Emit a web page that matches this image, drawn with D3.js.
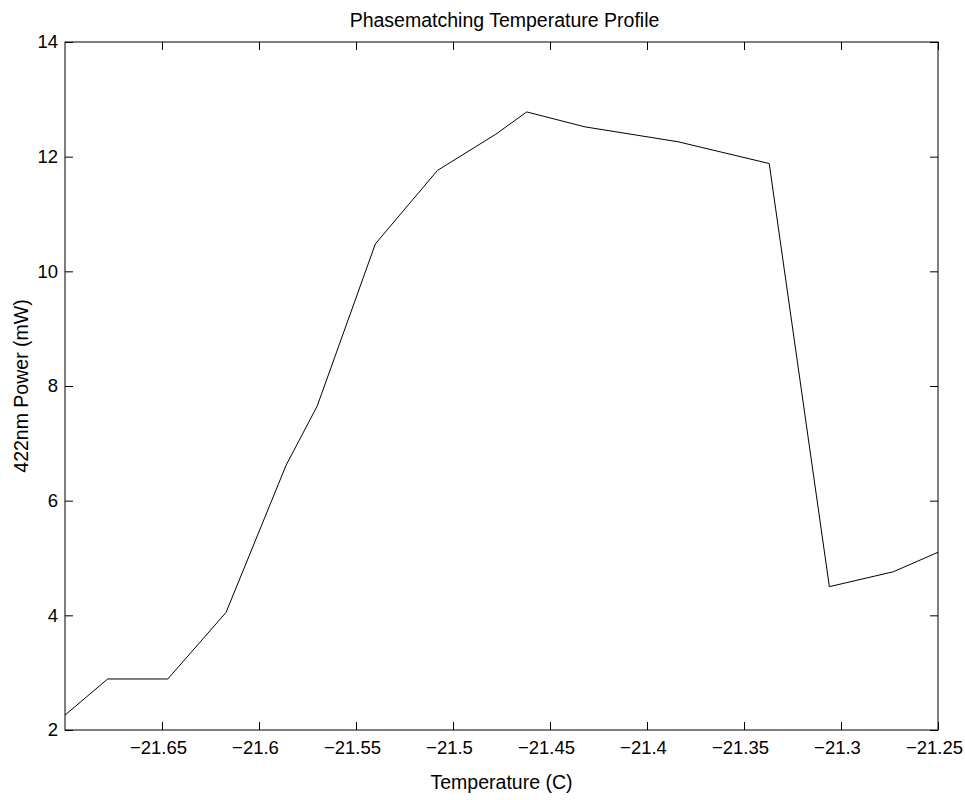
<!DOCTYPE html>
<html>
<head>
<meta charset="utf-8">
<script src="https://cdn.jsdelivr.net/npm/d3@7"></script>
<style>
  body { margin: 0; background: #fff; }
  svg text { font-family: "Liberation Sans", Arial, sans-serif; fill: #000; }
</style>
</head>
<body>
<div id="chart"></div>
<script>
// data
var temperature = [-21.700, -21.678, -21.647, -21.617, -21.586, -21.570, -21.540, -21.508,
                   -21.478, -21.462, -21.432, -21.384, -21.337, -21.306, -21.273, -21.250];
var power = [2.26, 2.89, 2.89, 4.05, 6.62, 7.65, 10.48, 11.76,
             12.39, 12.78, 12.52, 12.26, 11.88, 4.50, 4.76, 5.10];
var xTicks = [-21.65, -21.6, -21.55, -21.5, -21.45, -21.4, -21.35, -21.3, -21.25];
var yTicks = [2, 4, 6, 8, 10, 12, 14];

var svgWidth = 965, svgHeight = 800;
var margin = { top: 42, right: 27, bottom: 70, left: 65 };
var chartWidth = svgWidth - margin.left - margin.right;
var chartHeight = svgHeight - margin.top - margin.bottom;
var tickFont = 18.5, labelFont = 19.5;

var svg = d3.select("#chart").append("svg")
  .attr("width", svgWidth)
  .attr("height", svgHeight);

var chartGroup = svg.append("g")
  .attr("transform", `translate(${margin.left}, ${margin.top})`);

var xScale = d3.scaleLinear().domain([-21.7, -21.25]).range([0, chartWidth]);
var yScale = d3.scaleLinear().domain([2, 14]).range([chartHeight, 0]);

var fmtX = d => d3.format("")(d).replace("-", "\u2212");

// axes with inward ticks on all four sides
function styleAxis(g) {
  g.select(".domain").remove();
  g.selectAll(".tick line").attr("stroke", "#000");
  g.selectAll(".tick text").attr("font-size", tickFont);
}

chartGroup.append("g")
  .attr("transform", `translate(0, ${chartHeight})`)
  .call(d3.axisBottom(xScale).tickValues(xTicks).tickSizeInner(-8).tickSizeOuter(0).tickPadding(10.5).tickFormat(fmtX))
  .call(styleAxis)
  .selectAll(".tick text").attr("dx", -4);

chartGroup.append("g")
  .call(d3.axisTop(xScale).tickValues(xTicks).tickSizeInner(-8).tickSizeOuter(0).tickFormat(""))
  .call(styleAxis);

chartGroup.append("g")
  .call(d3.axisLeft(yScale).tickValues(yTicks).tickSizeInner(-8).tickSizeOuter(0).tickPadding(7).tickFormat(d3.format("d")))
  .call(styleAxis);

chartGroup.append("g")
  .attr("transform", `translate(${chartWidth}, 0)`)
  .call(d3.axisRight(yScale).tickValues(yTicks).tickSizeInner(-8).tickSizeOuter(0).tickFormat(""))
  .call(styleAxis);

// box
chartGroup.append("rect")
  .attr("width", chartWidth)
  .attr("height", chartHeight)
  .attr("fill", "none")
  .attr("stroke", "#000")
  .attr("stroke-width", 1);

// line
var line = d3.line()
  .x((d, i) => xScale(temperature[i]))
  .y(d => yScale(d));

chartGroup.append("path")
  .datum(power)
  .attr("d", line)
  .attr("fill", "none")
  .attr("stroke", "#000")
  .attr("stroke-width", 1);

// labels
chartGroup.append("text")
  .attr("x", chartWidth / 2 + 3)
  .attr("y", -15)
  .attr("text-anchor", "middle")
  .attr("font-size", labelFont)
  .text("Phasematching Temperature Profile");

chartGroup.append("text")
  .attr("x", chartWidth / 2)
  .attr("y", chartHeight + 59)
  .attr("text-anchor", "middle")
  .attr("font-size", labelFont)
  .text("Temperature (C)");

chartGroup.append("text")
  .attr("transform", "rotate(-90)")
  .attr("x", -chartHeight / 2)
  .attr("y", -37)
  .attr("text-anchor", "middle")
  .attr("font-size", labelFont)
  .text("422nm Power (mW)");
</script>
</body>
</html>
